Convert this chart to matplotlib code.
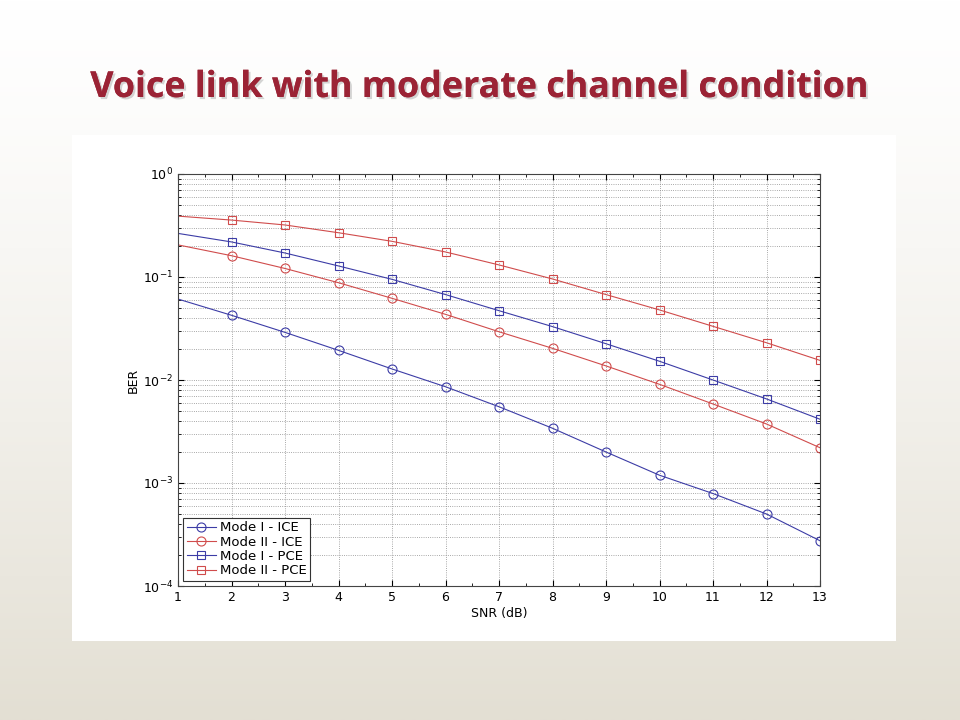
import numpy as np
import matplotlib
matplotlib.use("Agg")
import matplotlib.pyplot as plt
import matplotlib.patheffects as path_effects
from matplotlib.ticker import LogLocator, NullFormatter, MultipleLocator
from matplotlib.colors import to_rgb

snr = [1, 2, 3, 4, 5, 6, 7, 8, 9, 10, 11, 12, 13]
mode1_ice = [0.0611, 0.0425, 0.029, 0.0194, 0.0128, 0.0086, 0.0055, 0.0034,
             0.0020, 0.00119, 0.00079, 0.0005, 0.000275]
mode2_ice = [0.205, 0.161, 0.121, 0.088, 0.0621, 0.0434, 0.0294, 0.0203,
             0.0137, 0.00908, 0.00585, 0.00374, 0.0022]
mode1_pce = [0.265, 0.219, 0.171, 0.128, 0.0949, 0.0675, 0.0471, 0.033,
             0.0225, 0.0152, 0.0100, 0.00655, 0.00416]
mode2_pce = [0.39, 0.357, 0.32, 0.269, 0.222, 0.175, 0.131, 0.0957,
             0.0675, 0.0479, 0.0332, 0.023, 0.0155]
labels = ["Mode I - ICE", "Mode II - ICE", "Mode I - PCE", "Mode II - PCE"]

blue = "#3c3ca6"
red = "#d04c4c"

fig = plt.figure(figsize=(9.6, 7.2), dpi=100)

# slide background gradient
bg = fig.add_axes([0, 0, 1, 1], zorder=-10)
top = np.array(to_rgb("#ffffff"))
bot = np.array(to_rgb("#e3dfd3"))
t = np.linspace(0, 1, 256)[:, None] ** 1.3
grad = top + (bot - top) * t
bg.imshow(grad[:, None, :], aspect="auto", extent=[0, 1, 0, 1])
bg.set_axis_off()

# white panel behind the plot
panel = fig.add_axes([72 / 960, 1 - 641 / 720, (896 - 72) / 960, (641 - 135) / 720], zorder=-5)
panel.set_facecolor("white")
panel.set_xticks([])
panel.set_yticks([])
for s in panel.spines.values():
    s.set_visible(False)

title = fig.text(0.5, 1 - 88 / 720, "Voice link with moderate channel condition",
                 ha="center", va="center", fontsize=25.8, fontweight="bold",
                 color="#9b2335", family="Open Sans")
title.set_path_effects([path_effects.withSimplePatchShadow(offset=(1.5, -1.5), shadow_rgbFace="#888888", alpha=0.35),
                        path_effects.Normal()])

ax = fig.add_axes([178 / 960, 1 - 586 / 720, (820 - 178) / 960, (586 - 174) / 720])
series = [(mode1_ice, blue, "o"), (mode2_ice, red, "o"), (mode1_pce, blue, "s"), (mode2_pce, red, "s")]
for (vals, c, m), lab in zip(series, labels):
    ax.semilogy(snr, vals, color=c, lw=0.8, marker=m, mfc="none", mec=c,
                ms=6.5 if m == "o" else 6, mew=0.8, markevery=slice(1, None), label=lab)

ax.set_xlim(1, 13)
ax.set_ylim(1e-4, 1)
ax.xaxis.set_major_locator(MultipleLocator(1))
ax.xaxis.set_minor_locator(MultipleLocator(0.5))
ax.yaxis.set_major_locator(LogLocator(base=10, numticks=10))
ax.yaxis.set_minor_locator(LogLocator(base=10, subs=np.arange(2, 10), numticks=10))
ax.yaxis.set_minor_formatter(NullFormatter())
ax.grid(True, which="major", ls=":", color="#8c8c8c", lw=0.6)
ax.grid(True, which="minor", axis="y", ls=":", color="#8c8c8c", lw=0.6)
ax.tick_params(which="both", direction="in", top=True, right=True, labelsize=9)
ax.tick_params(which="major", length=4)
ax.tick_params(which="minor", length=2)
for s in ax.spines.values():
    s.set_color("#444444")
    s.set_linewidth(0.8)
ax.set_xlabel("SNR (dB)", fontsize=9, labelpad=2)
ax.set_ylabel("BER", fontsize=9, labelpad=2)

leg = ax.legend(loc="lower left", fontsize=9.5, fancybox=False, framealpha=1,
                edgecolor="#333333", handlelength=2.2, borderpad=0.25,
                labelspacing=0.1, handletextpad=0.3, borderaxespad=0.4)
leg.get_frame().set_linewidth(0.8)

fig.savefig("out.png", dpi=100)
